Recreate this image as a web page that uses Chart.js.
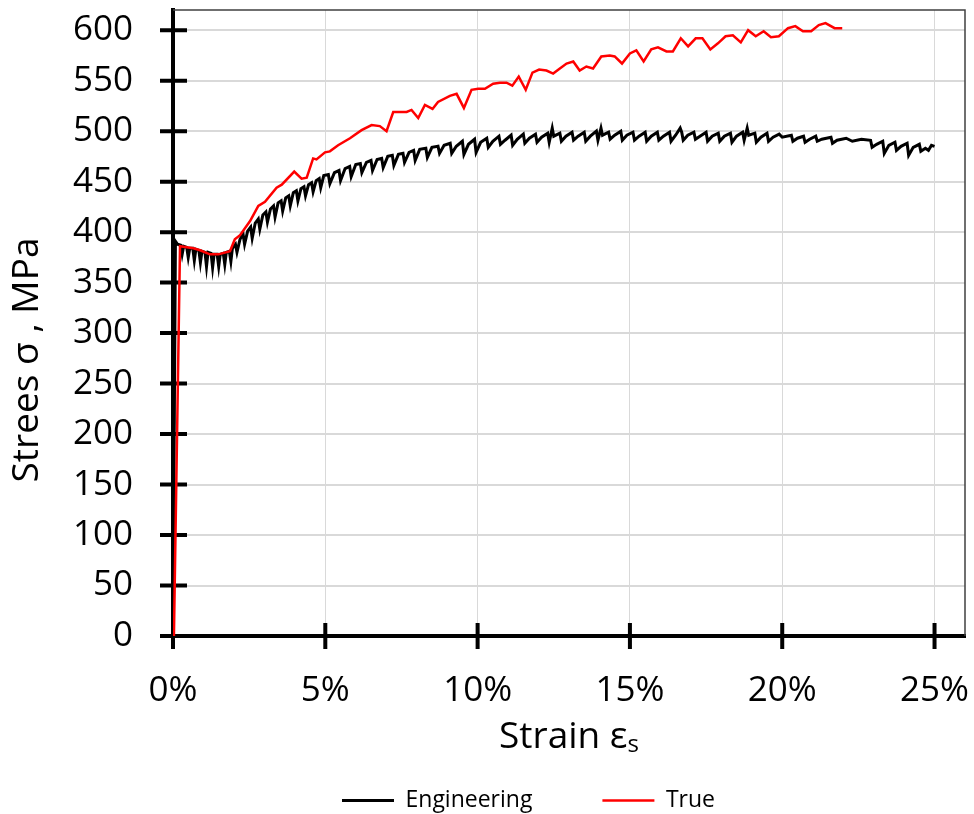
<!DOCTYPE html>
<html>
<head>
<meta charset="utf-8">
<script src="https://cdn.jsdelivr.net/npm/chart.js@4.4.1/dist/chart.umd.min.js"></script>
<style>
  html, body { margin: 0; padding: 0; background: #fff; }
</style>
</head>
<body>
<canvas id="stress-strain-chart" width="974" height="814"></canvas>
<script>
// Engineering curve (strain in %, stress in MPa)
const engStrain = [
  0, 0.04, 0.08, 0.15, 0.25, 0.3, 0.35, 0.45, 0.5, 0.55,
  0.65, 0.7, 0.75, 0.85, 0.9, 0.95, 1.05, 1.1, 1.15, 1.25,
  1.3, 1.35, 1.45, 1.5, 1.55, 1.65, 1.7, 1.75, 1.85, 1.9,
  1.95, 2.05, 2.1, 2.2, 2.3, 2.35, 2.45, 2.55, 2.6, 2.7,
  2.8, 2.85, 2.95, 3.05, 3.1, 3.2, 3.3, 3.35, 3.45, 3.55,
  3.6, 3.7, 3.8, 3.85, 3.95, 4.05, 4.1, 4.2, 4.3, 4.35,
  4.45, 4.55, 4.6, 4.7, 4.8, 4.85, 4.95, 5.1, 5.15, 5.3,
  5.45, 5.5, 5.65, 5.8, 5.85, 6.0, 6.15, 6.2, 6.35, 6.5,
  6.55, 6.7, 6.85, 6.9, 7.05, 7.2, 7.25, 7.4, 7.55, 7.6,
  7.75, 7.9, 7.95, 8.1, 8.3, 8.35, 8.5, 8.7, 8.75, 8.9,
  9.1, 9.15, 9.3, 9.5, 9.55, 9.7, 9.9, 9.95, 10.1, 10.3,
  10.35, 10.5, 10.7, 10.75, 10.9, 11.1, 11.15, 11.3, 11.5, 11.55,
  11.7, 11.9, 11.95, 12.1, 12.3, 12.35, 12.45, 12.5, 12.7, 12.75,
  12.9, 13.1, 13.15, 13.3, 13.5, 13.55, 13.7, 13.9, 13.95, 14.05,
  14.1, 14.3, 14.35, 14.5, 14.7, 14.75, 14.9, 15.1, 15.15, 15.3,
  15.5, 15.55, 15.7, 15.9, 15.95, 16.1, 16.3, 16.35, 16.5, 16.65,
  16.7, 16.75, 16.9, 17.1, 17.15, 17.3, 17.5, 17.55, 17.7, 17.9,
  17.95, 18.1, 18.3, 18.35, 18.5, 18.7, 18.75, 18.85, 18.9, 19.1,
  19.15, 19.3, 19.5, 19.55, 19.7, 19.9, 20.0, 20.3, 20.35, 20.5,
  20.7, 20.75, 20.9, 21.1, 21.15, 21.3, 21.6, 21.65, 21.8, 22.1,
  22.3, 22.6, 22.9, 22.95, 23.1, 23.3, 23.35, 23.5, 23.7, 23.75,
  23.9, 24.1, 24.15, 24.3, 24.5, 24.55, 24.7, 24.8, 24.9, 25.0
];
const engStress = [
  0, 200, 391, 388, 387, 378, 386, 385, 375, 384,
  384, 372, 383, 382, 370, 381, 380, 366, 380, 379,
  365, 378, 378, 366, 378, 379, 368, 380, 381, 371,
  384, 388, 380, 393, 398, 388, 401, 405, 394, 409,
  413, 403, 417, 420, 410, 423, 426, 415, 429, 431,
  421, 434, 436, 426, 439, 441, 431, 443, 445, 436,
  447, 449, 440, 451, 453, 444, 456, 457, 448, 459,
  461, 451, 463, 465, 455, 467, 468, 459, 469, 471,
  461, 472, 473, 464, 475, 476, 466, 477, 478, 469,
  479, 481, 471, 482, 483, 474, 484, 485, 478, 486,
  488, 478, 485, 490, 477, 487, 492, 479, 489, 493,
  484, 490, 495, 487, 491, 496, 486, 492, 497, 488,
  493, 497, 489, 494, 498, 489, 503, 495, 498, 490,
  495, 499, 491, 495, 499, 490, 495, 500, 491, 503,
  496, 499, 492, 496, 500, 491, 496, 499, 491, 495,
  499, 490, 495, 499, 491, 495, 499, 490, 496, 503,
  499, 491, 496, 499, 492, 495, 499, 490, 495, 498,
  490, 495, 498, 489, 495, 499, 491, 503, 496, 498,
  489, 494, 498, 490, 494, 497, 494, 496, 490, 493,
  495, 489, 492, 495, 490, 492, 494, 488, 491, 493,
  490, 492, 491, 484, 487, 490, 478, 486, 489, 481,
  485, 488, 476, 484, 487, 480, 483, 481, 486, 485
];

// True curve
const trueStrain = [
  0.03, 0.23, 0.67, 0.89, 1.21, 1.49, 1.87, 2.03, 2.2, 2.53,
  2.8, 3.02, 3.4, 3.57, 3.98, 4.22, 4.39, 4.6, 4.71, 4.99,
  5.15, 5.42, 5.81, 6.19, 6.52, 6.79, 7.01, 7.23, 7.67, 7.83,
  8.05, 8.27, 8.52, 8.7, 9.09, 9.31, 9.55, 9.8, 10.02, 10.24,
  10.51, 10.73, 10.95, 11.14, 11.35, 11.58, 11.8, 12.02, 12.26, 12.48,
  12.7, 12.92, 13.14, 13.35, 13.57, 13.79, 14.06, 14.34, 14.5, 14.74,
  15.0, 15.21, 15.45, 15.7, 15.92, 16.2, 16.41, 16.67, 16.91, 17.16,
  17.38, 17.64, 17.89, 18.14, 18.38, 18.64, 18.88, 19.13, 19.39, 19.63,
  19.89, 20.19, 20.43, 20.68, 20.95, 21.2, 21.42, 21.72, 21.97
];
const trueStress = [
  0, 386, 384, 382, 378, 378, 381, 393, 397, 411,
  426, 430, 444, 447, 460, 453, 454, 473, 472, 479,
  480, 486, 493, 501, 506, 505, 500, 519, 519, 521,
  513, 526, 522, 529, 535, 537, 523, 541, 542, 542,
  547, 548, 548, 545, 554, 541, 558, 561, 560, 557,
  562, 567, 569, 560, 564, 562, 574, 575, 574, 567,
  577, 580, 569, 581, 583, 579, 579, 592, 584, 592,
  592, 581, 587, 594, 595, 588, 600, 594, 599, 593,
  594, 602, 604, 599, 599, 605, 607, 602, 602
];

const seriesNames = ['Engineering', 'True'];
const xTickValues = [0, 5, 10, 15, 20, 25];
const yTickValues = [0, 50, 100, 150, 200, 250, 300, 350, 400, 450, 500, 550, 600];
const xTitle = 'Strain εₛ';
const yTitle = 'Strees σ , MPa';

function toPoints(xs, ys) {
    return xs.map((x, i) => ({ x: x, y: ys[i] }));
}

// frame on top/right, tick marks crossing the axes, y title placed like the original
const axisDecor = {
    id: 'axisDecor',
    afterLayout(chart) {
        // nudge legend to where the original has it
        const lg = chart.legend;
        lg.left += 46; lg.right += 46;
        lg.top += 8; lg.bottom += 8;
    },
    beforeDatasetsDraw(chart) {
        const { ctx, chartArea, scales } = chart;
        ctx.save();
        ctx.strokeStyle = '#404040';
        ctx.lineWidth = 1.5;
        ctx.beginPath();
        ctx.moveTo(chartArea.left, chartArea.top);
        ctx.lineTo(chartArea.right, chartArea.top);
        ctx.lineTo(chartArea.right, chartArea.bottom);
        ctx.stroke();

        ctx.strokeStyle = '#000';
        ctx.lineWidth = 4;
        ctx.beginPath();
        scales.y.ticks.forEach(t => {
            const py = scales.y.getPixelForValue(t.value);
            ctx.moveTo(chartArea.left - 13, py);
            ctx.lineTo(chartArea.left + 14, py);
        });
        scales.x.ticks.forEach(t => {
            const px = scales.x.getPixelForValue(t.value);
            ctx.moveTo(px, chartArea.bottom - 13);
            ctx.lineTo(px, chartArea.bottom + 13);
        });
        ctx.stroke();

        // y axis title, sits a bit below the middle of the axis
        ctx.fillStyle = '#000';
        ctx.font = '37px "Open Sans"';
        ctx.textAlign = 'center';
        ctx.textBaseline = 'middle';
        ctx.translate(27, (chartArea.top + chartArea.bottom) / 2 + 37);
        ctx.rotate(-Math.PI / 2);
        ctx.fillText(yTitle, 0, 0);
        ctx.restore();
    }
};

const ctx = document.getElementById('stress-strain-chart').getContext('2d');
new Chart(ctx, {
    type: 'line',
    data: {
        datasets: [{
            label: seriesNames[0],
            data: toPoints(engStrain, engStress),
            borderColor: '#000000',
            backgroundColor: '#000000',
            borderWidth: 3,
            pointRadius: 0,
            pointStyle: 'line',
            order: 2
        }, {
            label: seriesNames[1],
            data: toPoints(trueStrain, trueStress),
            borderColor: '#ff0000',
            backgroundColor: '#ff0000',
            borderWidth: 2.5,
            pointRadius: 0,
            pointStyle: 'line',
            order: 1
        }]
    },
    options: {
        responsive: false,
        animation: false,
        layout: { padding: { left: 0, right: 9, top: 10, bottom: 0 } },
        scales: {
            x: {
                type: 'linear',
                min: 0,
                max: 26,
                afterBuildTicks: scale => {
                    scale.ticks = xTickValues.map(v => ({ value: v }));
                },
                afterFit: scale => {
                    scale.height = 75;
                    scale.paddingLeft = 0;
                    scale.paddingRight = 0;
                },
                ticks: {
                    padding: 34,
                    color: '#000',
                    font: { family: 'Open Sans', size: 35 },
                    callback: v => v + '%'
                },
                grid: { color: '#d9d9d9', lineWidth: 1, drawTicks: false },
                border: { color: '#000', width: 4 },
                title: {
                    display: true,
                    text: xTitle,
                    color: '#000',
                    font: { family: 'Open Sans', size: 37 },
                    padding: { top: 0, bottom: -49 }
                }
            },
            y: {
                min: 0,
                max: 620,
                afterBuildTicks: scale => {
                    scale.ticks = yTickValues.map(v => ({ value: v }));
                },
                afterFit: scale => {
                    scale.width = 173;
                    scale.paddingTop = 0;
                    scale.paddingBottom = 0;
                },
                ticks: {
                    padding: 40,
                    color: '#000',
                    font: { family: 'Open Sans', size: 35 }
                },
                grid: { color: '#d9d9d9', lineWidth: 2, drawTicks: false },
                border: { color: '#000', width: 4 }
            }
        },
        plugins: {
            legend: {
                position: 'bottom',
                labels: {
                    usePointStyle: true,
                    pointStyleWidth: 52,
                    padding: 70,
                    color: '#000',
                    font: { family: 'Open Sans', size: 23 },
                    sort: (a, b) => a.datasetIndex - b.datasetIndex
                }
            },
            tooltip: { enabled: false }
        }
    },
    plugins: [axisDecor]
});
</script>
</body>
</html>
